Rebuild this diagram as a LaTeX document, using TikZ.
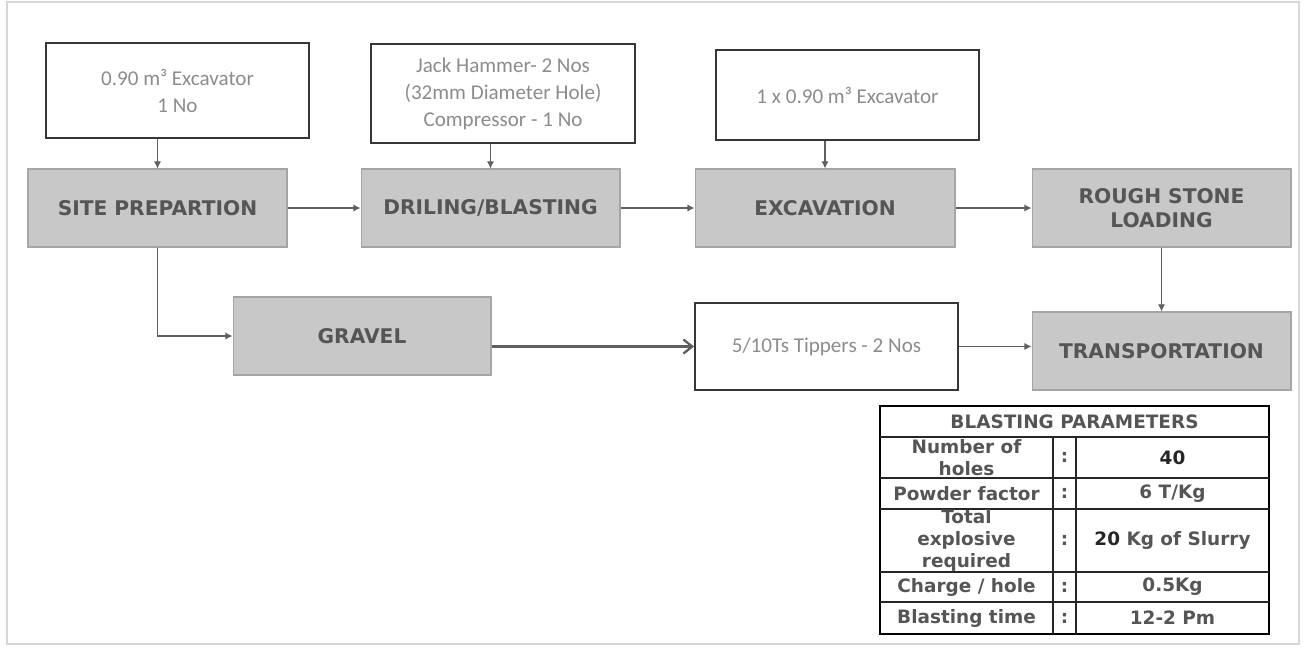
\documentclass[tikz,border=0pt]{standalone}
\usepackage{fontspec}
\setmainfont{DejaVu Sans}
\newfontfamily\calfont{Carlito}
\usepackage{tikz}
\usetikzlibrary{arrows.meta}
\definecolor{boxgray}{RGB}{200,200,200}
\definecolor{edgegray}{RGB}{165,165,165}
\definecolor{textdark}{RGB}{85,85,85}
\definecolor{textlight}{RGB}{140,140,140}
\definecolor{framedark}{RGB}{55,55,55}
\definecolor{linegray}{RGB}{95,95,95}
\definecolor{outergray}{RGB}{215,215,215}

\begin{document}
\begin{tikzpicture}[x=0.02cm,y=-0.02cm,
  proc/.style={draw=edgegray, fill=boxgray, line width=0.6pt, minimum width=5.18cm,
    minimum height=1.56cm, inner sep=0pt, align=center, text=textdark,
    font=\bfseries\fontsize{11.5}{13.5}\selectfont},
  equip/.style={draw=framedark, fill=white, line width=1.1pt, inner sep=0pt,
    align=center, text=textlight, font=\calfont\fontsize{12}{15.3}\selectfont},
  flow/.style={draw=linegray, line width=0.6pt, -{Latex[length=4pt,width=4pt]}},
  cell/.style={inner sep=0pt, align=center, text=textdark,
    font=\bfseries\fontsize{10.5}{12.3}\selectfont}]
\useasboundingbox (0,0) rectangle (1315,650);
\draw[outergray, line width=1.2pt] (7,2) rectangle (1299,644);

% equipment boxes (top row)
\node[equip, minimum width=5.26cm, minimum height=1.9cm] (exc1) at (177.5,90.5) {0.90 m³ Excavator\\1 No};
\node[equip, minimum width=5.28cm, minimum height=1.98cm] (jack) at (503,93.5) {Jack Hammer- 2 Nos\\(32mm Diameter Hole)\\Compressor - 1 No};
\node[equip, minimum width=5.26cm, minimum height=1.8cm] (exc2) at (847.5,95) {1 x 0.90 m³ Excavator};

% process boxes
\node[proc] (site) at (157.5,208) {SITE PREPARTION};
\node[proc] (drill) at (490.5,208) {DRILING/BLASTING};
\node[proc, minimum width=5.2cm] (excav) at (825,208) {EXCAVATION};
\node[proc] (rough) at (1161.5,208) {ROUGH STONE\\LOADING};
\node[proc] (trans) at (1161.5,351) {TRANSPORTATION};
\node[proc, minimum width=5.16cm] (gravel) at (362,336) {GRAVEL};
\node[equip, minimum width=5.26cm, minimum height=1.74cm] (tipper) at (826.5,346.5) {5/10Ts Tippers - 2 Nos};

% connectors
\draw[flow] (site.north |- exc1.south) -- (site.north);
\draw[flow] (drill.north |- jack.south) -- (drill.north);
\draw[flow] (excav.north |- exc2.south) -- (excav.north);
\draw[flow] (site.east) -- (drill.west);
\draw[flow] (drill.east) -- (excav.west);
\draw[flow] (excav.east) -- (rough.west);
\draw[flow] (rough.south) -- (trans.north);
\draw[flow] (site.south) |- (gravel.west);
\draw[draw=linegray, line width=1.3pt, -{Straight Barb[length=5pt,width=8pt]}] (gravel.east |- tipper.west) -- (tipper.west);
\draw[flow] (tipper.east) -- (tipper.east -| trans.west);

% blasting parameters table
\draw[black, line width=0.9pt] (880,406) rectangle (1269,634);
\foreach \yy in {437,478,509,572,602}
  \draw[black!85, line width=0.7pt] (880,\yy) -- (1269,\yy);
\draw[black!85, line width=0.7pt] (1053,437) -- (1053,634);
\draw[black!85, line width=0.7pt] (1076,437) -- (1076,634);
\node[cell] (head) at (1074.5,421.5) {BLASTING PARAMETERS};
\node[cell] (lab1) at (966.5,457.5) {Number of\\holes};
\node[cell] (lab2) at (966.5,493.5) {Powder factor};
\node[cell] (lab3) at (966.5,540.5) {Total\\explosive\\required};
\node[cell] (lab4) at (966.5,587) {Charge / hole};
\node[cell] (lab5) at (966.5,618) {Blasting time};
\foreach \yy/\nm in {457.5/c1,493.5/c2,540.5/c3,587/c4,618/c5}
  \node[cell] (\nm) at (1064.5,\yy) {:};
\node[cell, text=black!85] (val1) at (1172.5,457.5) {40};
\node[cell] (val2) at (1172.5,493.5) {6 T/Kg};
\node[cell] (val3) at (1172.5,540.5) {\textcolor{black!85}{20} Kg of Slurry};
\node[cell] (val4) at (1172.5,587) {0.5Kg};
\node[cell] (val5) at (1172.5,618) {12-2 Pm};
\end{tikzpicture}
\end{document}
